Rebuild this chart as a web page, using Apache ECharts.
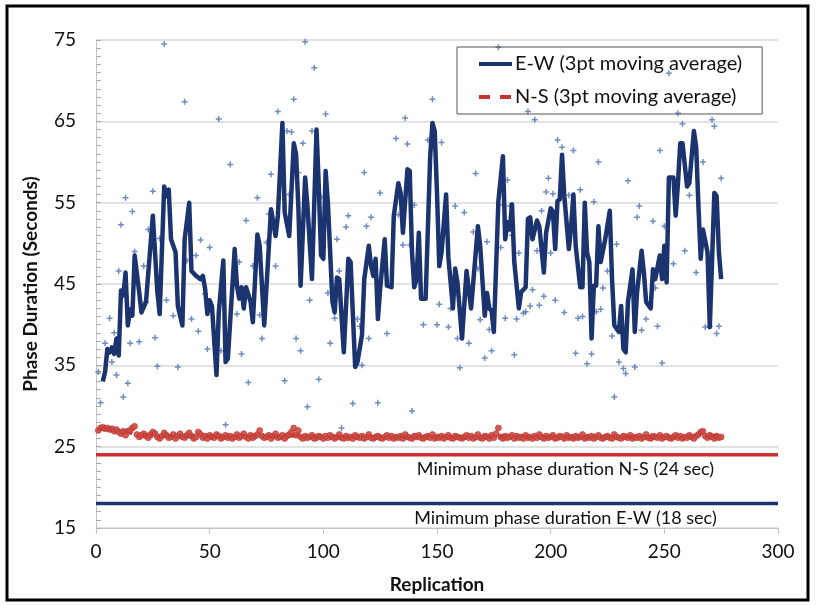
<!DOCTYPE html>
<html>
<head>
<meta charset="utf-8">
<script src="https://cdn.jsdelivr.net/npm/echarts@6/dist/echarts.min.js"></script>
<style>
  html, body { margin: 0; padding: 0; background: #ffffff; }
  #chart { width: 821px; height: 605px; }
</style>
</head>
<body>
<div id="chart"></div>
<script>
// Axis tick values
const xTicks = [0, 50, 100, 150, 200, 250, 300];
const yTicks = [15, 25, 35, 45, 55, 65, 75];

// E-W 3pt moving average: replication and value
const ewAvgRep = [3,4,5,6,7,8,9,10,11,12,13,14,15,16,17,19,20,22,25,27,28,30,31,32,33,35,36,38,39,41,42,44,46,47,48,49,50,51,53,54,56,57,58,61,62,63,64,65,66,68,69,71,72,74,77,79,80,82,83,85,87,88,89,90,92,93,95,97,98,99,100,101,102,104,105,106,107,109,111,112,114,115,117,118,120,121,122,123,124,125,127,128,130,131,133,134,135,137,138,139,140,141,142,143,145,147,148,149,150,151,152,154,155,157,158,159,161,163,165,168,169,171,172,173,174,175,177,179,180,181,182,183,184,186,187,189,190,191,192,194,195,197,198,200,201,202,203,204,205,206,208,209,210,211,213,214,215,216,217,218,219,220,221,222,224,226,227,228,230,231,232,233,234,236,237,238,240,241,242,244,245,246,248,249,250,251,252,254,255,256,257,258,260,261,263,264,265,266,267,269,270,272,273,274,275];
const ewAvgVal = [33.0,34.2,37.0,36.6,37.2,36.4,38.3,36.2,44.2,43.6,46.4,39.9,41.9,41.1,48.5,44.0,41.5,42.8,53.4,44.0,41.3,57.0,55.8,56.6,50.5,48.9,42.3,39.9,50.5,55.0,46.6,46.0,45.6,46.0,44.4,41.3,43.0,42.3,33.8,41.5,47.9,35.4,35.8,49.3,44.8,43.2,44.6,42.0,44.6,42.8,40.3,51.1,49.7,39.9,54.2,50.9,53.4,64.8,53.8,50.9,62.3,61.0,54.6,44.8,58.1,54.6,45.6,64.0,57.0,48.5,48.1,58.9,55.0,42.8,41.5,45.8,45.6,36.6,48.1,47.7,34.8,35.4,38.7,45.6,49.7,47.2,46.0,48.1,40.7,44.4,50.5,44.8,44.6,53.4,57.4,56.2,51.3,59.1,58.9,48.9,44.6,45.6,51.3,43.2,43.2,60.7,64.8,63.8,56.2,47.2,48.9,56.0,48.3,42.0,46.9,45.2,38.3,46.6,42.0,52.1,49.7,41.1,43.9,42.0,41.7,39.1,55.2,60.7,50.5,52.6,51.7,54.8,47.7,42.0,44.0,44.6,53.0,53.2,50.5,52.8,52.1,46.4,51.3,54.3,53.9,49.3,55.2,55.4,60.9,55.8,49.3,52.1,56.0,49.7,44.6,44.6,55.0,48.9,47.7,38.3,44.8,44.8,52.1,47.7,50.5,54.0,45.6,39.9,39.1,42.3,37.0,36.6,42.8,46.8,39.1,44.0,49.1,46.4,42.8,42.0,46.8,45.6,48.5,45.6,49.7,45.2,58.1,58.1,53.4,57.4,62.3,62.3,57.0,57.4,63.8,61.9,54.6,48.1,51.7,48.9,39.7,56.2,55.8,48.9,45.6];

// E-W individual replications
const ewRawRep = [1,2,4,6,7,8,9,10,11,12,13,14,15,16,17,19,21,22,23,25,26,27,28,30,31,34,36,39,40,42,44,45,46,48,49,50,54,55,57,59,62,63,64,66,67,69,71,72,73,75,76,77,79,80,83,84,85,86,87,88,89,90,91,92,93,94,95,96,98,99,101,102,103,105,106,107,108,110,111,113,115,116,117,118,119,120,121,124,125,128,132,133,135,136,137,138,139,140,144,146,148,150,151,152,155,156,158,159,160,162,164,166,167,168,169,171,172,173,174,177,178,179,180,181,182,183,184,185,186,188,189,190,191,192,193,194,195,196,197,198,199,200,201,202,203,205,206,208,210,211,212,213,214,216,218,219,220,221,222,223,225,227,228,229,230,232,233,234,237,238,239,240,242,245,246,247,248,249,250,252,254,256,258,259,261,264,267,268,270,271,272,273,274,275];
const ewRawVal = [34.2,30.4,37.7,40.8,35.4,39.0,33.8,46.6,52.3,31.1,55.6,32.8,37.7,53.9,49.0,37.9,47.2,42.8,51.7,56.4,38.4,34.9,50.6,74.5,43.0,41.1,34.8,67.4,47.9,40.7,48.5,39.2,50.4,43.8,37.0,49.5,65.3,36.8,27.7,59.7,41.3,47.7,36.4,52.8,32.9,47.2,55.6,41.2,38.3,50.1,53.6,58.5,47.2,66.2,33.1,63.8,56.0,63.7,67.7,38.3,58.7,36.8,62.3,74.8,29.9,43.0,63.8,71.6,33.3,55.7,65.9,43.9,37.7,40.8,50.5,46.6,27.3,52.0,53.4,30.3,40.7,39.8,35.0,58.7,52.1,38.3,53.2,30.4,56.2,38.9,62.9,53.5,49.8,65.4,62.2,49.8,29.4,54.7,40.0,62.7,67.7,40.0,42.5,62.4,39.7,42.0,54.6,38.3,34.7,53.8,37.7,51.4,58.6,46.9,40.6,35.9,50.2,39.4,36.8,74.1,49.5,54.7,40.8,57.8,54.6,51.0,36.3,40.7,48.8,41.4,41.6,66.2,42.3,44.3,65.2,49.1,42.4,54.0,43.5,56.3,58.0,48.8,56.1,43.0,62.7,61.8,41.5,55.9,61.4,36.5,40.8,56.6,41.0,35.2,36.4,55.1,41.6,60.0,41.9,44.5,46.6,38.6,31.1,49.9,35.4,34.6,34.0,57.7,34.8,53.2,54.6,39.3,40.7,52.7,44.5,39.8,61.4,35.3,52.1,70.9,47.5,66.0,64.7,49.1,55.9,46.4,60.0,39.7,39.8,65.2,64.4,38.9,39.8,58.0];

// N-S individual replications 1..275
const nsRaw = [
  27.0,27.3,27.4,27.2,27.3,27.1,27.2,26.9,27.1,26.8,
  26.6,26.9,26.4,26.9,27.0,27.3,27.5,26.5,26.2,26.4,
  26.6,26.3,26.1,26.5,26.8,26.6,26.2,26.0,26.3,26.7,
  26.4,26.1,26.2,26.5,26.0,26.3,26.6,26.2,26.1,26.4,
  26.7,26.3,26.0,26.2,26.8,26.5,26.1,26.3,26.0,26.4,
  26.2,26.1,26.5,26.3,26.0,26.2,26.4,26.1,26.3,26.0,
  26.2,26.5,26.1,26.3,26.6,26.2,26.0,26.4,26.1,26.3,
  26.5,27.0,26.3,26.1,26.2,26.4,26.0,26.3,26.6,26.1,
  26.2,26.4,26.0,26.3,26.5,26.8,27.3,26.4,27.0,26.2,
  26.0,26.3,26.1,26.2,26.4,26.0,26.1,26.3,26.2,26.0,
  26.3,26.1,26.4,26.2,26.0,26.2,26.5,26.1,26.0,26.3,
  26.1,26.2,26.0,26.4,26.2,26.1,26.3,26.0,26.2,26.5,
  26.1,26.0,26.2,26.3,26.1,26.0,26.2,26.4,26.1,26.3,
  26.0,26.2,26.1,26.3,26.0,26.5,26.2,26.1,26.0,26.3,
  26.2,26.4,26.1,26.0,26.2,26.3,26.1,26.5,26.0,26.2,
  26.1,26.3,26.0,26.2,26.4,26.1,26.0,26.3,26.2,26.1,
  26.0,26.2,26.4,26.1,26.3,26.0,26.2,26.5,26.1,26.0,
  26.3,26.2,26.0,26.4,26.1,26.6,27.3,26.2,26.0,26.3,
  26.1,26.2,26.4,26.0,26.3,26.1,26.2,26.0,26.4,26.1,
  26.2,26.0,26.3,26.1,26.5,26.2,26.0,26.3,26.1,26.2,
  26.4,26.0,26.1,26.3,26.2,26.0,26.4,26.1,26.2,26.0,
  26.3,26.1,26.2,26.5,26.0,26.2,26.1,26.3,26.0,26.2,
  26.4,26.1,26.0,26.2,26.3,26.1,26.0,26.5,26.2,26.1,
  26.0,26.3,26.2,26.1,26.4,26.0,26.2,26.1,26.3,26.0,
  26.2,26.5,26.1,26.0,26.3,26.2,26.1,26.4,26.0,26.2,
  26.3,26.1,26.0,26.2,26.4,26.1,26.3,26.0,26.2,26.1,
  26.4,26.2,26.0,26.3,26.5,26.8,26.9,26.3,26.1,26.4,
  26.2,26.0,26.3,26.1,26.2
];

// N-S 3pt moving average
const nsAvgRep = [2,8,14,20,30,40,50,60,70,80,90,100,110,120,130,140,150,160,170,180,190,200,210,220,230,240,250,260,270,275];
const nsAvgVal = [27.2,27.1,26.8,26.4,26.3,26.3,26.2,26.2,26.3,26.3,26.4,26.2,26.2,26.2,26.2,26.2,26.2,26.2,26.2,26.3,26.2,26.2,26.2,26.2,26.2,26.2,26.2,26.2,26.4,26.2];

// Minimum phase durations
const minNS = 24;
const minEW = 18;
const minLabels = ['Minimum phase duration N-S (24 sec)', 'Minimum phase duration E-W (18 sec)'];
const labelRep = 206.5;

const seriesNames = ['E-W (3pt moving average)', 'N-S (3pt moving average)'];

const NAVY = '#1b3470';
const RED = '#c8312d';
const FONT = 'Lato';
const TEXT = '#111111';

function pairs(xs, ys) { return xs.map((x, i) => [x, ys[i]]); }

const chart = echarts.init(document.getElementById('chart'), null, { renderer: 'canvas' });

chart.setOption({
  backgroundColor: '#ffffff',
  animation: false,
  textStyle: { fontFamily: FONT },
  grid: { left: 96, right: 43, top: 40, bottom: 77, containLabel: false },
  legend: {
    orient: 'vertical',
    left: 457,
    top: 47,
    data: [
      { name: seriesNames[0], icon: 'path://M0,0H33V4H0Z' },
      { name: seriesNames[1], icon: 'path://M0,0H11V4H0Z M21,0H32V4H21Z M32,0H33V0.01H32Z' }
    ],
    padding: [7, 20, 7, 22],
    itemWidth: 33,
    itemHeight: 4,
    itemGap: 13,
    borderColor: '#555555',
    borderWidth: 1,
    backgroundColor: 'transparent',
    textStyle: { fontFamily: FONT, fontSize: 20, color: TEXT, padding: [0, 0, 0, -2] }
  },
  xAxis: {
    type: 'value',
    min: 0, max: 300, interval: 50,
    name: 'Replication',
    nameLocation: 'middle',
    nameGap: 47,
    nameTextStyle: { fontFamily: FONT, fontWeight: 'bold', fontSize: 19, color: TEXT },
    axisLine: { show: true, lineStyle: { color: '#c4c4c4', width: 1 } },
    axisTick: { show: true, inside: false, length: 6, lineStyle: { color: '#c4c4c4' } },
    axisLabel: { fontFamily: FONT, fontSize: 19, color: TEXT, margin: 14,
      formatter: v => (xTicks.includes(v) ? String(v) : '') },
    splitLine: { show: false }
  },
  yAxis: {
    type: 'value',
    min: 15, max: 75, interval: 10,
    name: 'Phase Duration (Seconds)',
    nameLocation: 'middle',
    nameGap: 56,
    nameTextStyle: { fontFamily: FONT, fontWeight: 'bold', fontSize: 19, color: TEXT },
    axisLine: { show: true, lineStyle: { color: '#c4c4c4', width: 1 } },
    axisTick: { show: true, inside: true, length: 5, lineStyle: { color: '#aaaaaa' } },
    minorTick: { show: true, splitNumber: 10, length: 5, lineStyle: { color: '#aaaaaa' } },
    axisLabel: { fontFamily: FONT, fontSize: 19, color: TEXT, margin: 20,
      formatter: v => (yTicks.includes(v) ? String(v) : '') },
    splitLine: { show: true, lineStyle: { color: '#d9d9d9', width: 1.5 } }
  },
  series: [
    {
      name: 'E-W raw',
      type: 'scatter',
      data: pairs(ewRawRep, ewRawVal),
      symbol: 'path://M3,0h2v3h3v2h-3v3h-2v-3h-3v-2h3z',
      symbolSize: 6,
      itemStyle: { color: '#4a72b4' },
      silent: true,
      z: 2
    },
    {
      name: seriesNames[1],
      type: 'line',
      data: pairs(nsAvgRep, nsAvgVal),
      showSymbol: false,
      symbol: 'none',
      lineStyle: { color: RED, width: 4, type: [11, 10] },
      itemStyle: { color: RED },
      z: 2
    },
    {
      name: 'N-S raw',
      type: 'scatter',
      data: nsRaw.map((v, i) => [i + 1, v]),
      symbolSize: 6,
      itemStyle: { color: '#cf4a43', borderColor: '#b0302b', borderWidth: 0.6, opacity: 0.9 },
      silent: true,
      z: 3
    },
    {
      name: seriesNames[0],
      type: 'line',
      data: pairs(ewAvgRep, ewAvgVal),
      showSymbol: false,
      symbol: 'none',
      lineStyle: { color: NAVY, width: 4.5, join: 'round' },
      itemStyle: { color: NAVY },
      z: 4
    },
    {
      name: 'Min N-S',
      type: 'line',
      data: [[0, minNS], [300, minNS]],
      showSymbol: false,
      symbol: 'none',
      lineStyle: { color: RED, width: 3.5 },
      silent: true,
      z: 3
    },
    {
      name: 'Min E-W',
      type: 'line',
      data: [[0, minEW], [300, minEW]],
      showSymbol: false,
      symbol: 'none',
      lineStyle: { color: NAVY, width: 3.5 },
      silent: true,
      z: 3
    },
    {
      name: 'Min labels',
      type: 'scatter',
      data: [[labelRep, minNS], [labelRep, minEW]],
      symbolSize: 1,
      itemStyle: { color: 'rgba(255,255,255,0)' },
      silent: true,
      z: 5,
      label: {
        show: true,
        position: 'bottom',
        distance: 5,
        fontFamily: FONT,
        fontSize: 18,
        color: TEXT,
        opacity: 1,
        formatter: p => minLabels[p.dataIndex]
      }
    }
  ],
  graphic: [
    {
      type: 'rect',
      shape: { x: 7, y: 6, width: 801, height: 594 },
      style: { fill: 'none', stroke: '#000000', lineWidth: 3 },
      silent: true,
      z: 100
    }
  ]
});
</script>
</body>
</html>
